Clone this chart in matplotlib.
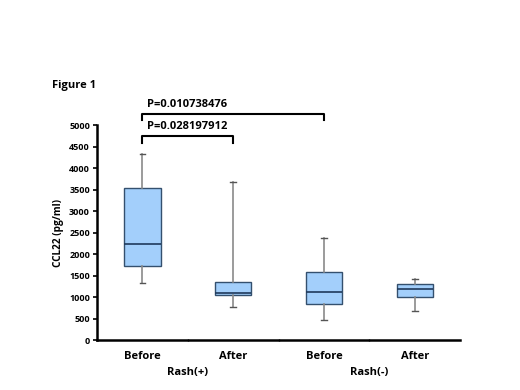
import matplotlib.pyplot as plt
import numpy as np

groups = ['Before', 'After', 'Before', 'After']
rash_labels = ['Rash(+)', 'Rash(-)']
whislo = [1330, 760, 460, 680]
q1 = [1720, 1050, 830, 1000]
med = [2230, 1100, 1120, 1180]
q3 = [3550, 1350, 1580, 1300]
whishi = [4330, 3680, 2370, 1430]
p_values = ['P=0.028197912', 'P=0.010738476']
bracket_y = [4750, 5270]

plt.rcParams['font.family'] = ['Open Sans', 'DejaVu Sans']

fig = plt.figure(figsize=(5.2, 3.9), dpi=100)
ax = fig.add_axes([0.1865, 0.128, 0.6985, 0.551])

stats = []
for i in range(4):
    stats.append({'whislo': whislo[i], 'q1': q1[i], 'med': med[i],
                  'q3': q3[i], 'whishi': whishi[i], 'fliers': []})

pos = np.arange(4) + 0.5
ax.bxp(stats, positions=pos, widths=0.4, patch_artist=True, showfliers=False,
       capwidths=0.06,
       boxprops=dict(facecolor='#a3cffb', edgecolor='#34506e', linewidth=1.0),
       medianprops=dict(color='#1f3a5c', linewidth=1.2),
       whiskerprops=dict(color='#8a8a8a', linewidth=1.2),
       capprops=dict(color='#555555', linewidth=1.0))

ax.set_xlim(0, 4)
ax.set_ylim(0, 5000)
ax.set_yticks(np.arange(0, 5001, 500))
ax.tick_params(axis='y', labelsize=6.5, length=3, width=1.2, pad=2)
for t in ax.get_yticklabels():
    t.set_fontweight('bold')
ax.set_xticks([1, 2, 3])
ax.set_xticklabels([])
ax.tick_params(axis='x', length=2, width=1, direction='inout')
for s in ['top', 'right']:
    ax.spines[s].set_visible(False)
ax.spines['left'].set_linewidth(1.8)
ax.spines['bottom'].set_linewidth(1.8)
ax.set_ylabel('CCL22 (pg/ml)', fontsize=7.2, fontweight='bold', labelpad=4)

for i, g in enumerate(groups):
    ax.text(pos[i], -260, g, ha='center', va='top', fontsize=8, fontweight='bold')
for j, r in enumerate(rash_labels):
    ax.text(1 + 2 * j, -620, r, ha='center', va='top', fontsize=8, fontweight='bold')

# significance brackets
ends = [pos[1], pos[2]]
for k in range(2):
    y = bracket_y[k]
    ax.plot([pos[0], pos[0], ends[k], ends[k]], [y - 160, y, y, y - 160],
            color='black', lw=1.5, clip_on=False)
    ax.text(pos[0] + 0.05, y + 90, p_values[k], ha='left', va='bottom',
            fontsize=8, fontweight='bold')

fig.text(0.1, 0.78, 'Figure 1', fontsize=8, fontweight='bold', ha='left', va='center')

fig.savefig('out.png', dpi=100)
